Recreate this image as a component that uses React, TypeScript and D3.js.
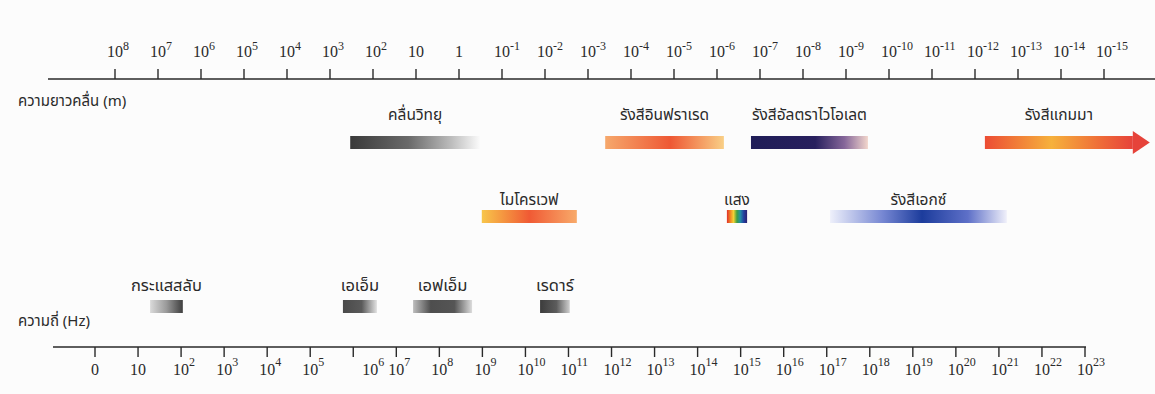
import { scaleLinear } from "d3"

// wavelength axis (metres), exponent of ten
const wavelengthTicks = [
  { value: 8, base: "10", sup: "8" },
  { value: 7, base: "10", sup: "7" },
  { value: 6, base: "10", sup: "6" },
  { value: 5, base: "10", sup: "5" },
  { value: 4, base: "10", sup: "4" },
  { value: 3, base: "10", sup: "3" },
  { value: 2, base: "10", sup: "2" },
  { value: 1, base: "10", sup: "" },
  { value: 0, base: "1", sup: "" },
  { value: -1, base: "10", sup: "-1" },
  { value: -2, base: "10", sup: "-2" },
  { value: -3, base: "10", sup: "-3" },
  { value: -4, base: "10", sup: "-4" },
  { value: -5, base: "10", sup: "-5" },
  { value: -6, base: "10", sup: "-6" },
  { value: -7, base: "10", sup: "-7" },
  { value: -8, base: "10", sup: "-8" },
  { value: -9, base: "10", sup: "-9" },
  { value: -10, base: "10", sup: "-10" },
  { value: -11, base: "10", sup: "-11" },
  { value: -12, base: "10", sup: "-12" },
  { value: -13, base: "10", sup: "-13" },
  { value: -14, base: "10", sup: "-14" },
  { value: -15, base: "10", sup: "-15" },
]

// frequency axis (Hz), exponent of ten
const frequencyTicks = [
  { value: 0, base: "0", sup: "" },
  { value: 1, base: "10", sup: "" },
  { value: 2, base: "10", sup: "2" },
  { value: 3, base: "10", sup: "3" },
  { value: 4, base: "10", sup: "4" },
  { value: 5, base: "10", sup: "5" },
  { value: 6, base: "10", sup: "6" },
  { value: 7, base: "10", sup: "7" },
  { value: 8, base: "10", sup: "8" },
  { value: 9, base: "10", sup: "9" },
  { value: 10, base: "10", sup: "10" },
  { value: 11, base: "10", sup: "11" },
  { value: 12, base: "10", sup: "12" },
  { value: 13, base: "10", sup: "13" },
  { value: 14, base: "10", sup: "14" },
  { value: 15, base: "10", sup: "15" },
  { value: 16, base: "10", sup: "16" },
  { value: 17, base: "10", sup: "17" },
  { value: 18, base: "10", sup: "18" },
  { value: 19, base: "10", sup: "19" },
  { value: 20, base: "10", sup: "20" },
  { value: 21, base: "10", sup: "21" },
  { value: 22, base: "10", sup: "22" },
  { value: 23, base: "10", sup: "23" },
]

// bands on the wavelength scale, from/to = exponent
const upperBands = [
  { id: "radio", label: "คลื่นวิทยุ", from: 2.53, to: -0.49 },
  { id: "infrared", label: "รังสีอินฟราเรด", from: -3.4, to: -6.16 },
  { id: "uv", label: "รังสีอัลตราไวโอเลต", from: -6.79, to: -9.51 },
  { id: "gamma", label: "รังสีแกมมา", from: -12.23, to: -15.67 },
]

const lowerBands = [
  { id: "microwave", label: "ไมโครเวฟ", from: -0.53, to: -2.74 },
  { id: "light", label: "แสง", from: -6.23, to: -6.7 },
  { id: "xray", label: "รังสีเอกซ์", from: -8.63, to: -12.74 },
]

// bands on the frequency scale
const frequencyBands = [
  { id: "ac", label: "กระแสสลับ", from: 1.28, to: 2.04 },
  { id: "am", label: "เอเอ็ม", from: 5.76, to: 6.55 },
  { id: "fm", label: "เอฟเอ็ม", from: 7.39, to: 8.76 },
  { id: "radar", label: "เรดาร์", from: 10.34, to: 11.03 },
]

const gradients: Record<string, [number, string][]> = {
  radio: [[0, "#3a3a3a"], [0.45, "#6a6a6a"], [0.78, "#bdbdbd"], [1, "#fbfbfb"]],
  infrared: [[0, "#f6a86c"], [0.55, "#ee5834"], [1, "#f9cf86"]],
  uv: [[0, "#1f1d57"], [0.55, "#28205e"], [0.8, "#86679a"], [1, "#f2d6cc"]],
  gamma: [[0, "#ec4c34"], [0.45, "#f6b13c"], [0.8, "#ee6838"], [1, "#e6433a"]],
  microwave: [[0, "#f8c64a"], [0.5, "#f05a34"], [1, "#f8aa6a"]],
  light: [[0, "#e0302a"], [0.17, "#f08424"], [0.33, "#f2d234"], [0.5, "#3c9e44"], [0.66, "#2290a4"], [0.83, "#2242a0"], [1, "#2c2070"]],
  xray: [[0, "#eef0fb"], [0.3, "#7586d2"], [0.52, "#1c3c9c"], [0.78, "#5e70c8"], [1, "#f0f0fa"]],
  ac: [[0, "#dadada"], [0.5, "#9a9a9a"], [1, "#3e3e3e"]],
  am: [[0, "#4a4a4a"], [0.55, "#5a5a5a"], [1, "#e2e2e2"]],
  fm: [[0, "#bdbdbd"], [0.3, "#4e4e4e"], [0.7, "#555555"], [1, "#dcdcdc"]],
  radar: [[0, "#3c3c3c"], [0.55, "#5c5c5c"], [1, "#cfcfcf"]],
}

const width = 1155
const height = 394
const ink = "#2a2a2a"
const serif = "'Liberation Serif', 'DejaVu Serif', serif"
const thai = "'Noto Sans Thai', 'Loma', 'Garuda', 'Noto Sans', 'DejaVu Sans', sans-serif"

export default function App() {
  const xWave = scaleLinear().domain([8, -15]).range([115, 1104])
  const xFreq = scaleLinear().domain([0, 23]).range([95, 1085])

  const topAxisY = 79
  const bottomAxisY = 347
  const barH = 13
  const rows = [
    { bands: upperBands, scale: xWave, barY: 136, labelY: 120, size: 15.5 },
    { bands: lowerBands, scale: xWave, barY: 210, labelY: 205, size: 15.5 },
    { bands: frequencyBands, scale: xFreq, barY: 300, labelY: 291, size: 16.5 },
  ]

  return (
    <svg width={width} height={height} style={{ position: "absolute", left: 0, top: 0, background: "#fcfcfc" }}>
      <defs>
        {Object.entries(gradients).map(([id, stops]) => (
          <linearGradient key={id} id={`g-${id}`} x1="0" x2="1" y1="0" y2="0">
            {stops.map(([o, c]) => (
              <stop key={o} offset={o} stopColor={c} />
            ))}
          </linearGradient>
        ))}
      </defs>

      {/* wavelength axis */}
      <line x1={48} x2={1155} y1={topAxisY} y2={topAxisY} stroke={ink} strokeWidth={1.6} />
      {wavelengthTicks.map((t) => {
        const x = xWave(t.value)
        return (
          <g key={t.value}>
            <line x1={x} x2={x} y1={topAxisY - 10} y2={topAxisY} stroke={ink} strokeWidth={1.4} />
            <text x={x} y={57} textAnchor="middle" fontFamily={serif} fontSize={16} fill={ink}>{t.base}</text>
            {t.sup && (
              <text x={x + 8} y={50} fontFamily={serif} fontSize={12} fill={ink}>{t.sup}</text>
            )}
          </g>
        )
      })}
      <text x={18} y={106} fontFamily={thai} fontSize={15} fill={ink}>ความยาวคลื่น (m)</text>

      {/* bands */}
      {rows.map((row) =>
        row.bands.map((b) => {
          const x0 = row.scale(b.from)
          const x1 = row.scale(b.to)
          return (
            <g key={b.id}>
              <rect x={x0} y={row.barY} width={x1 - x0} height={barH} fill={`url(#g-${b.id})`} />
              {b.id === "gamma" && (
                <path d={`M${x1},${row.barY - 5}L${x1 + 17},${row.barY + barH / 2}L${x1},${row.barY + barH + 5}Z`} fill="#e6433a" />
              )}
              <text x={(x0 + x1) / 2} y={row.labelY} textAnchor="middle" fontFamily={thai} fontSize={row.size} fill={ink}>
                {b.label}
              </text>
            </g>
          )
        })
      )}

      {/* frequency axis */}
      <text x={18} y={326} fontFamily={thai} fontSize={15} fill={ink}>ความถี่ (Hz)</text>
      <line x1={53} x2={1086} y1={bottomAxisY} y2={bottomAxisY} stroke={ink} strokeWidth={1.6} />
      {frequencyTicks.map((t) => {
        const x = xFreq(t.value)
        const dx = t.value === 6 ? 17 : 0
        return (
          <g key={t.value}>
            <line x1={x} x2={x} y1={bottomAxisY} y2={bottomAxisY + 10} stroke={ink} strokeWidth={1.4} />
            <text x={x + dx} y={375} textAnchor="middle" fontFamily={serif} fontSize={16} fill={ink}>{t.base}</text>
            {t.sup && (
              <text x={x + dx + 8} y={366} fontFamily={serif} fontSize={12} fill={ink}>{t.sup}</text>
            )}
          </g>
        )
      })}
    </svg>
  )
}
